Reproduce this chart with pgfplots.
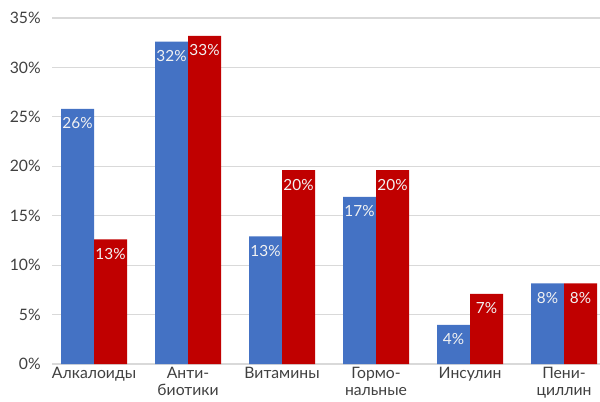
\documentclass[border=0pt]{standalone}
\usepackage{fontspec}
\setmainfont{Lato}
\usepackage{pgfplots}
\usepackage{pgfplotstable}
\pgfplotsset{compat=1.18}
\definecolor{cblue}{HTML}{4472C4}
\definecolor{cred}{HTML}{C00000}
\definecolor{ctext}{HTML}{404040}
\definecolor{cgrid}{HTML}{D9D9D9}
\pgfplotstableread{
x y lab
0 25.8 26\%
1 32.6 32\%
2 12.9 13\%
3 16.9 17\%
4 3.95 4\%
5 8.15 8\%
}\blue
\pgfplotstableread{
x y lab
0 12.6 13\%
1 33.2 33\%
2 19.6 20\%
3 19.6 20\%
4 7.1 7\%
5 8.15 8\%
}\red
\begin{document}
\begin{tikzpicture}[x=1pt,y=1pt]
\useasboundingbox (0,0) rectangle (450,300.75);
\begin{axis}[
  at={(39pt,27.75pt)}, anchor=south west,
  scale only axis, width=411pt, height=259.5pt,
  xmin=-0.447, xmax=5.383, ymin=0, ymax=35,
  ybar=0pt, bar width=24.75pt,
  axis line style={draw=none},
  ymajorgrids, grid style={cgrid, line width=0.9pt},
  ytick={0,5,...,35},
  yticklabel={\pgfmathprintnumber{\tick}\%},
  /pgf/number format/assume math mode=true,
  xtick={0,...,5},
  xticklabels={Алкалоиды, {Анти-\\биотики}, Витамины, {Гормо-\\нальные}, Инсулин, {Пени-\\циллин}},
  xticklabel style={align=center, text=ctext, font=\fontsize{11.8}{13.3}\selectfont, inner sep=2pt},
  yticklabel style={text=ctext, font=\fontsize{11.8}{13}\selectfont, xshift=-5pt},
  major tick length=0pt,
  clip=false,
  nodes near coords,
  point meta=explicit symbolic,
  every node near coord/.append style={anchor=north, text=white!95!black, font=\fontsize{11.5}{13}\selectfont, yshift=-3pt},
]
\addplot[fill=cblue, draw=none] table[x=x, y=y, meta=lab] {\blue};
\addplot[fill=cred, draw=none] table[x=x, y=y, meta=lab] {\red};
\end{axis}
\end{tikzpicture}
\end{document}
